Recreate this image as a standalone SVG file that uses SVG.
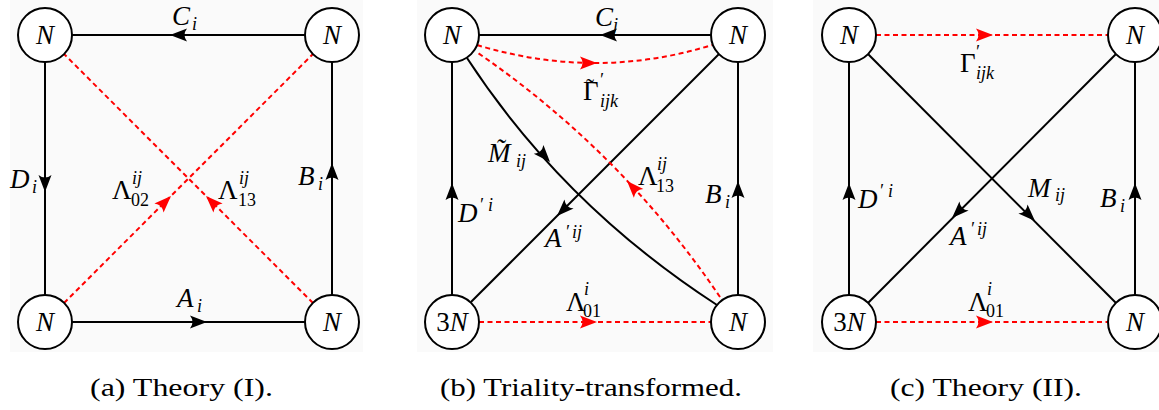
<svg xmlns="http://www.w3.org/2000/svg" width="1159" height="410" viewBox="0 0 1159 410">
<style>
.bg{fill:#fafafa}
.nd{fill:#fff;stroke:#000;stroke-width:2}
.e{fill:none;stroke:#000;stroke-width:2}
.rd{fill:none;stroke:#ff0000;stroke-width:2;stroke-dasharray:5 3.5}
.ab{fill:#000}
.ar{fill:#ff0000}
.m{font-family:"Liberation Serif",serif;font-style:italic;font-size:27px;fill:#000}
.u{font-family:"Liberation Serif",serif;font-style:normal;font-size:27px;fill:#000}
.si{font-style:italic;font-size:18px}
.su{font-style:normal;font-size:18px}
.ti{font-style:normal;font-size:24px}
.cap{font-family:"Liberation Serif",serif;font-size:25px;fill:#000}
</style>
<defs>
<path id="ah" d="M0,0 L-17,-6.5 Q-12,0 -17,6.5 Z"/>
</defs>
<g id="panels">
<rect class="bg" x="10" y="0" width="353" height="352"/>
<rect class="bg" x="417" y="0" width="356" height="352"/>
<rect class="bg" x="813" y="0" width="346" height="352"/>
</g>

<g id="connectors">
<!-- panel a -->
<line class="e" x1="305" y1="35" x2="72" y2="35"/>
<use href="#ah" class="ab" transform="translate(170,35) rotate(180)"/>
<line class="e" x1="45" y1="62" x2="45" y2="295"/>
<use href="#ah" class="ab" transform="translate(45,192) rotate(90)"/>
<line class="e" x1="332" y1="295" x2="332" y2="62"/>
<use href="#ah" class="ab" transform="translate(332,163) rotate(-90)"/>
<line class="e" x1="72" y1="322" x2="305" y2="322"/>
<use href="#ah" class="ab" transform="translate(207,322)"/>
<line class="rd" x1="64" y1="303" x2="313" y2="54"/>
<use href="#ah" class="ar" transform="translate(171,196) rotate(-45)"/>
<line class="rd" x1="313" y1="303" x2="64" y2="54"/>
<use href="#ah" class="ar" transform="translate(206,196) rotate(-135)"/>
<!-- panel b -->
<line class="e" x1="711" y1="35" x2="479" y2="35"/>
<use href="#ah" class="ab" transform="translate(600,35) rotate(180)"/>
<line class="e" x1="452" y1="295" x2="452" y2="62"/>
<use href="#ah" class="ab" transform="translate(452,183) rotate(-90)"/>
<line class="e" x1="738" y1="295" x2="738" y2="62"/>
<use href="#ah" class="ab" transform="translate(738,181) rotate(-90)"/>
<line class="e" x1="719" y1="54" x2="471" y2="302"/>
<use href="#ah" class="ab" transform="translate(557,216) rotate(135)"/>
<path class="e" d="M467,58 Q563,205 717,305"/>
<use href="#ah" class="ab" transform="translate(550,162) rotate(48)"/>
<path class="rd" d="M720,297 Q622,152 478,53"/>
<use href="#ah" class="ar" transform="translate(627,181) rotate(-133)"/>
<path class="rd" d="M477,45 Q596,81 712,45"/>
<use href="#ah" class="ar" transform="translate(597,63)"/>
<line class="rd" x1="479" y1="322" x2="711" y2="322"/>
<use href="#ah" class="ar" transform="translate(597,322)"/>
<!-- panel c -->
<line class="rd" x1="876" y1="35" x2="1108" y2="35"/>
<use href="#ah" class="ar" transform="translate(993,35)"/>
<line class="e" x1="849" y1="295" x2="849" y2="62"/>
<use href="#ah" class="ab" transform="translate(849,183) rotate(-90)"/>
<line class="e" x1="1135" y1="295" x2="1135" y2="62"/>
<use href="#ah" class="ab" transform="translate(1135,183) rotate(-90)"/>
<line class="e" x1="868" y1="54" x2="1116" y2="303"/>
<use href="#ah" class="ab" transform="translate(1035,221) rotate(45)"/>
<line class="e" x1="1116" y1="54" x2="868" y2="303"/>
<use href="#ah" class="ab" transform="translate(952,218) rotate(135)"/>
<line class="rd" x1="876" y1="322" x2="1108" y2="322"/>
<use href="#ah" class="ar" transform="translate(993,322)"/>
</g>

<g id="edge-labels">
<!-- a -->
<text class="m" x="172" y="25">C<tspan class="si" x="192" y="30">i</tspan></text>
<text class="m" x="10" y="188">D<tspan class="si" x="32" y="193">i</tspan></text>
<text class="m" x="298" y="185">B<tspan class="si" x="318" y="190">i</tspan></text>
<text class="m" x="177" y="307">A<tspan class="si" x="197" y="312">i</tspan></text>
<text class="u" x="112" y="199">Λ<tspan class="si" x="132" y="184">ij</tspan><tspan class="su" x="131" y="206">02</tspan></text>
<text class="u" x="218" y="199">Λ<tspan class="si" x="239" y="184">ij</tspan><tspan class="su" x="238" y="206">13</tspan></text>
<!-- b -->
<text class="m" x="595" y="26">C<tspan class="si" x="613" y="31">j</tspan></text>
<text class="u" x="583" y="100">Γ<tspan class="ti" x="586" y="95">˜</tspan><tspan class="si" x="599" y="86">′</tspan><tspan class="si" x="600" y="107">ijk</tspan></text>
<text class="m" x="488" y="162">M̃<tspan class="si" x="516" y="167">ij</tspan></text>
<text class="m" x="545" y="247">A<tspan class="si" x="565" y="238">′</tspan><tspan class="si" x="572" y="238">ij</tspan></text>
<text class="m" x="458" y="222">D<tspan class="si" x="479" y="211">′</tspan><tspan class="si" x="488" y="211">i</tspan></text>
<text class="m" x="705" y="203">B<tspan class="si" x="725" y="208">i</tspan></text>
<text class="u" x="638" y="185">Λ<tspan class="si" x="657" y="170">ij</tspan><tspan class="su" x="656" y="192">13</tspan></text>
<text class="u" x="566" y="311">Λ<tspan class="si" x="584" y="295">i</tspan><tspan class="su" x="583" y="317">01</tspan></text>
<!-- c -->
<text class="u" x="960" y="72">Γ<tspan class="si" x="975" y="58">′</tspan><tspan class="si" x="976" y="79">ijk</tspan></text>
<text class="m" x="1028" y="197">M<tspan class="si" x="1055" y="201">ij</tspan></text>
<text class="m" x="950" y="245">A<tspan class="si" x="970" y="235">′</tspan><tspan class="si" x="977" y="235">ij</tspan></text>
<text class="m" x="858" y="208">D<tspan class="si" x="879" y="197">′</tspan><tspan class="si" x="888" y="197">i</tspan></text>
<text class="m" x="1100" y="207">B<tspan class="si" x="1120" y="212">i</tspan></text>
<text class="u" x="968" y="311">Λ<tspan class="si" x="987" y="295">i</tspan><tspan class="su" x="986" y="317">01</tspan></text>
</g>

<g id="node-a-tl"><circle class="nd" cx="45" cy="35" r="27"/><text class="m" x="45" y="44" text-anchor="middle">N</text></g>
<g id="node-a-tr"><circle class="nd" cx="332" cy="35" r="27"/><text class="m" x="332" y="44" text-anchor="middle">N</text></g>
<g id="node-a-bl"><circle class="nd" cx="45" cy="322" r="27"/><text class="m" x="45" y="331" text-anchor="middle">N</text></g>
<g id="node-a-br"><circle class="nd" cx="332" cy="322" r="27"/><text class="m" x="332" y="331" text-anchor="middle">N</text></g>

<g id="node-b-tl"><circle class="nd" cx="452" cy="35" r="27"/><text class="m" x="452" y="44" text-anchor="middle">N</text></g>
<g id="node-b-tr"><circle class="nd" cx="738" cy="35" r="27"/><text class="m" x="738" y="44" text-anchor="middle">N</text></g>
<g id="node-b-bl"><circle class="nd" cx="452" cy="322" r="27"/><text class="m" x="452" y="331" text-anchor="middle"><tspan font-style="normal">3</tspan>N</text></g>
<g id="node-b-br"><circle class="nd" cx="738" cy="322" r="27"/><text class="m" x="738" y="331" text-anchor="middle">N</text></g>

<g id="node-c-tl"><circle class="nd" cx="849" cy="35" r="27"/><text class="m" x="849" y="44" text-anchor="middle">N</text></g>
<g id="node-c-tr"><circle class="nd" cx="1135" cy="35" r="27"/><text class="m" x="1135" y="44" text-anchor="middle">N</text></g>
<g id="node-c-bl"><circle class="nd" cx="849" cy="322" r="27"/><text class="m" x="849" y="331" text-anchor="middle"><tspan font-style="normal">3</tspan>N</text></g>
<g id="node-c-br"><circle class="nd" cx="1135" cy="322" r="27"/><text class="m" x="1135" y="331" text-anchor="middle">N</text></g>

<g id="captions">
<text class="cap" x="90" y="396" textLength="183" lengthAdjust="spacingAndGlyphs">(a) Theory (I).</text>
<text class="cap" x="440" y="396" textLength="302" lengthAdjust="spacingAndGlyphs">(b) Triality-transformed.</text>
<text class="cap" x="890" y="396" textLength="192" lengthAdjust="spacingAndGlyphs">(c) Theory (II).</text>
</g>
</svg>
